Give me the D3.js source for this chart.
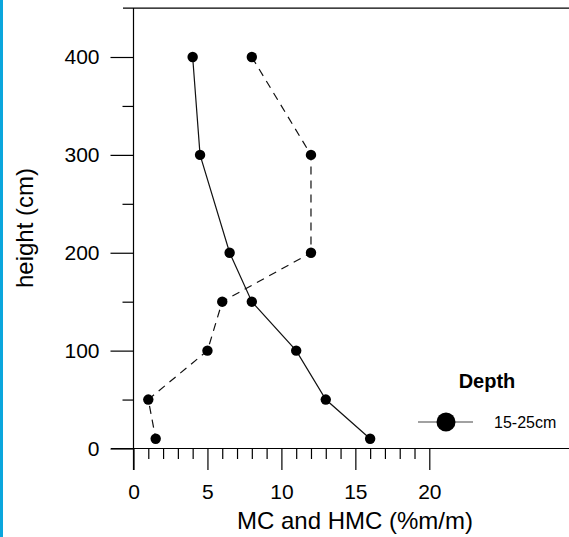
<!DOCTYPE html>
<html>
<head>
<meta charset="utf-8">
<script src="https://cdn.jsdelivr.net/npm/d3@7"></script>
<style>
  html, body { margin: 0; padding: 0; background: #fff; }
  svg { display: block; font-family: Arial, "Liberation Sans", sans-serif; }
</style>
</head>
<body>
<svg id="chart" width="569" height="537"></svg>
<script>
// ---- data ----
const heights = [400, 300, 200, 150, 100, 50, 10];
const mcValues = [4, 4.5, 6.5, 8, 11, 13, 16];        // solid line
const hmcValues = [8, 12, 12, 6, 5, 1, 1.5];          // dashed line
const xMajorTicks = [0, 5, 10, 15, 20];
const xMinorTicks = [1,2,3,4,6,7,8,9,11,12,13,14,16,17,18,19];
const yMajorTicks = [0, 100, 200, 300, 400];
const yMinorTicks = [50, 150, 250, 350];
const xTitle = "MC and HMC (%m/m)";
const yTitle = "height (cm)";
const legendTitle = "Depth";
const legendLabel = "15-25cm";

const svg = d3.select("#chart");
const x = d3.scaleLinear().domain([0, 20]).range([133.5, 429.3]);
const y = d3.scaleLinear().domain([0, 400]).range([448.5, 57]);

// left blue bar
svg.append("rect").attr("x", 0).attr("y", 0).attr("width", 3).attr("height", 537).attr("fill", "#0aa6dd");

// spines
svg.append("line").attr("x1", x(0)).attr("x2", x(0)).attr("y1", y(450)).attr("y2", 470)
  .attr("stroke", "#000").attr("stroke-width", 1.2);
svg.append("line").attr("x1", 123).attr("x2", 569).attr("y1", y(450)).attr("y2", y(450))
  .attr("stroke", "#000").attr("stroke-width", 1.2);
svg.append("line").attr("x1", 111).attr("x2", 569).attr("y1", y(0)).attr("y2", y(0))
  .attr("stroke", "#000").attr("stroke-width", 1.2);

// y axis
const yMaj = svg.append("g").attr("transform", `translate(${x(0)},0)`)
  .call(d3.axisLeft(y).tickValues(yMajorTicks).tickSize(23).tickPadding(11).tickFormat(d3.format("d")));
const yMin = svg.append("g").attr("transform", `translate(${x(0)},0)`)
  .call(d3.axisLeft(y).tickValues(yMinorTicks).tickSize(11).tickFormat(""));

// x axis
const xMaj = svg.append("g").attr("transform", `translate(0,${y(0)})`)
  .call(d3.axisBottom(x).tickValues(xMajorTicks).tickSize(21.5).tickPadding(14.5).tickFormat(d3.format("d")));
const xMin = svg.append("g").attr("transform", `translate(0,${y(0)})`)
  .call(d3.axisBottom(x).tickValues(xMinorTicks).tickSize(10.5).tickFormat(""));

[yMaj, yMin, xMaj, xMin].forEach(g => {
  g.select(".domain").remove();
  g.selectAll(".tick line").attr("stroke", "#000").attr("stroke-width", 1.2);
  g.selectAll(".tick text").attr("font-size", 21).attr("fill", "#000")
    .attr("font-family", "Arial, 'Liberation Sans', sans-serif");
});

// axis titles
svg.append("text").attr("x", 355).attr("y", 529).attr("text-anchor", "middle")
  .attr("font-size", 24).attr("fill", "#000").text(xTitle);
svg.append("text").attr("transform", `translate(32.5,228) rotate(-90)`).attr("text-anchor", "middle")
  .attr("font-size", 24).attr("fill", "#000").text(yTitle);

// cut-off fragment at bottom right
svg.append("text").attr("x", 508).attr("y", 551).attr("text-anchor", "middle")
  .attr("font-size", 20).attr("fill", "#444").text("500");

// lines
const line = d3.line().x(d => x(d[0])).y(d => y(d[1]));
const mcData = mcValues.map((v, i) => [v, heights[i]]);
const hmcData = hmcValues.map((v, i) => [v, heights[i]]);

svg.append("path").datum(mcData).attr("d", line).attr("fill", "none")
  .attr("stroke", "#111").attr("stroke-width", 1.2);
svg.append("path").datum(hmcData).attr("d", line).attr("fill", "none")
  .attr("stroke", "#111").attr("stroke-width", 1.2).attr("stroke-dasharray", "8,6");

svg.append("g").selectAll("circle").data(mcData.concat(hmcData)).join("circle")
  .attr("cx", d => x(d[0])).attr("cy", d => y(d[1])).attr("r", 5.2).attr("fill", "#000");

// legend
svg.append("text").attr("x", 487).attr("y", 388).attr("text-anchor", "middle")
  .attr("font-size", 20).attr("font-weight", "bold").attr("fill", "#000").text(legendTitle);
svg.append("line").attr("x1", 418).attr("x2", 473).attr("y1", 422).attr("y2", 422)
  .attr("stroke", "#444").attr("stroke-width", 1.2);
svg.append("circle").attr("cx", 446).attr("cy", 422).attr("r", 9.5).attr("fill", "#000");
svg.append("text").attr("x", 494).attr("y", 427.5)
  .attr("font-size", 16).attr("fill", "#000").text(legendLabel);
</script>
</body>
</html>
